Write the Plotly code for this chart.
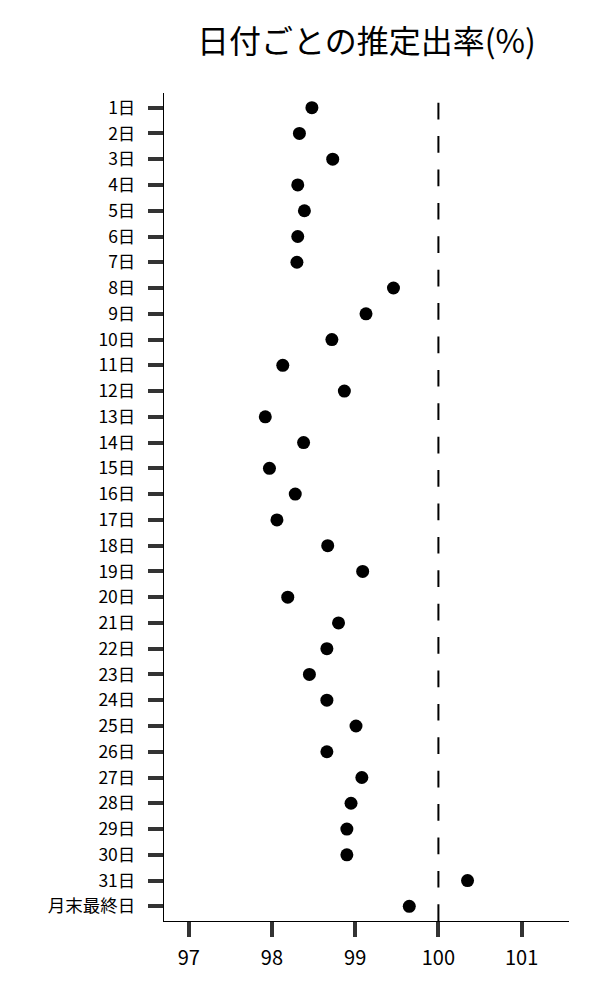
import plotly.graph_objects as go

days = [f"{i}日" for i in range(1, 32)] + ["月末最終日"]
rates = [98.48, 98.33, 98.73, 98.31, 98.39, 98.31, 98.30, 99.46, 99.13, 98.72,
         98.13, 98.87, 97.92, 98.38, 97.97, 98.28, 98.06, 98.67, 99.09, 98.19,
         98.80, 98.66, 98.45, 98.66, 99.01, 98.66, 99.08, 98.95, 98.90, 98.90,
         100.35, 99.65]
x_ticks = [97, 98, 99, 100, 101]
ref_value = 100
title_text = "日付ごとの推定出率(%)"

FONT = "Noto Sans CJK JP"

fig = go.Figure()
fig.add_trace(go.Scatter(
    x=rates, y=days, mode="markers",
    marker=dict(color="black", size=13, line=dict(width=0)),
    showlegend=False, hoverinfo="skip",
))

fig.add_shape(type="line", xref="x", yref="paper",
              x0=ref_value, x1=ref_value, y0=0, y1=1,
              line=dict(color="black", width=2, dash="16.7px,16.7px"), layer="above")

fig.update_layout(
    width=600, height=1000,
    margin=dict(l=156, r=39, t=85, b=87, pad=0),
    plot_bgcolor="white", paper_bgcolor="white",
    font=dict(family=FONT, color="black", size=20),
    title=dict(text=title_text, x=0.5, xref="paper", xanchor="center",
               y=1 - 34 / 1000, yref="container", yanchor="middle",
               font=dict(family=FONT, size=32, color="black")),
    xaxis=dict(range=[96.703, 101.569], tickvals=x_ticks,
               ticktext=[str(v) for v in x_ticks],
               showgrid=False, zeroline=False,
               showline=True, linecolor="black", linewidth=1.3,
               ticks="outside", ticklen=15, tickwidth=4, tickcolor="#333333",
               ticklabelstandoff=4,
               tickfont=dict(family=FONT, size=20, color="black")),
    yaxis=dict(type="category", categoryorder="array", categoryarray=days,
               range=[31.57, -0.57],
               showgrid=False, zeroline=False,
               showline=True, linecolor="black", linewidth=1.3,
               ticks="outside", ticklen=15, tickwidth=4, tickcolor="#333333",
               ticklabelstandoff=9,
               tickfont=dict(family=FONT, size=17.5, color="black")),
)

fig.write_html("out.html")
